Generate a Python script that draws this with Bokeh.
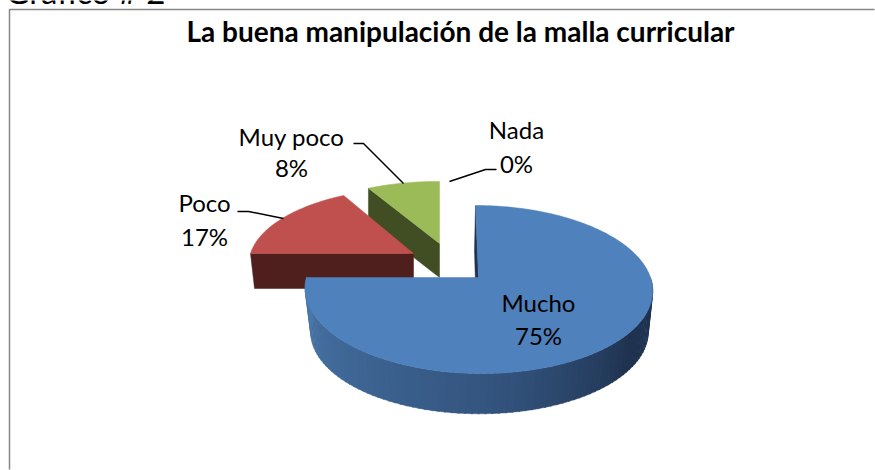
from math import sin, cos, pi
from bokeh.plotting import figure
from bokeh.embed import file_html
from bokeh.resources import INLINE
from bokeh.models import Range1d

categories = ["Mucho", "Poco", "Muy poco", "Nada"]
percents = [75, 17, 8, 0]
title_text = "La buena manipulación de la malla curricular"
caption_text = "Gráfico # 2"
top_colors = ["#4f81bd", "#c0504d", "#9bbb59"]
wall_colors = ["#1f3350", "#4f1f1e", "#414e24"]

W, H = 875, 470
p = figure(width=W, height=H, output_backend="svg", toolbar_location=None,
           x_range=Range1d(0, W), y_range=Range1d(H, 0), margin=(0, 0, 0, 0),
           min_border=0, outline_line_color=None, background_fill_color="white",
           border_fill_color="white")
p.axis.visible = False
p.grid.visible = False

K = 0.1429  # perspective strength


def rim(ang, ax, ay, rx, ry, shear=0.0):
    """Screen point of a disc rim at clockwise angle (degrees) from the back."""
    a = ang * pi / 180
    u, v = sin(a), cos(a)
    w = 1 + K * v
    return ax + rx * u / w + shear * v, ay - ry * v / w


def arc(a0, a1, ax, ay, rx, ry, shear=0.0):
    n = max(2, int(abs(a1 - a0)))
    return [rim(a0 + (a1 - a0) * i / n, ax, ay, rx, ry, shear) for i in range(n + 1)]


def poly(pts, color):
    p.patch([q[0] for q in pts], [q[1] for q in pts], fill_color=color,
            line_color=color, line_width=0.5)


# slice angles from the values
start = [0.0]
for v in percents:
    start.append(start[-1] + v * 3.6)

# green slice (8%)
a0, a1 = start[2], start[3]
ax, ay, rx, ry, depth = 439, 243, 166, 71, 34
e = rim(a0, ax, ay, rx, ry)
poly([(ax, ay), e, (e[0], e[1] + depth), (ax, ay + depth)], wall_colors[2])
poly([(ax, ay)] + arc(a0, a1, ax, ay, rx, ry), top_colors[2])

# red slice (17%)
a0, a1 = start[1], start[2]
ax, ay, rx, ry, depth = 413, 253, 163, 74.5, 35
e = rim(a0, ax, ay, rx, ry)
poly([(ax, ay), e, (e[0] + 4, e[1] + depth), (ax, ay + depth)], wall_colors[1])
poly([(ax, ay)] + arc(a0, a1, ax, ay, rx, ry), top_colors[1])

# blue slice (75%)
a0, a1 = start[0], start[1]
ax, ay, rx, ry = 478, 277, 172, 82.3
low_ax, low_ay, low_rx, low_ry = 479, 320, 167, 80
SHEAR = -3
poly([(ax, ay), rim(0, ax, ay, rx, ry, SHEAR), (474, 250), (476, 320)], wall_colors[0])


def mix(c0, c1, t):
    return "#%02x%02x%02x" % tuple(int(round(c0[i] + (c1[i] - c0[i]) * t)) for i in range(3))


LIGHT, MID, DARK = (74, 121, 172), (50, 82, 124), (31, 51, 80)
for ang in range(90, 270, 2):
    t = (270 - ang) / 180.0
    if t < 0.55:
        col = mix(LIGHT, MID, t / 0.55)
    else:
        col = mix(MID, DARK, min(1, (t - 0.55) / 0.25))
    b0, b1 = ang, ang + 2.5
    q = [rim(b0, ax, ay, rx, ry, SHEAR), rim(b1, ax, ay, rx, ry, SHEAR),
         rim(b1, low_ax, low_ay, low_rx, low_ry), rim(b0, low_ax, low_ay, low_rx, low_ry)]
    p.patch([r[0] for r in q], [r[1] for r in q], fill_color=col, line_color=col, line_width=0.4)
poly([(ax, ay)] + arc(a0, a1, ax, ay, rx, ry, SHEAR), top_colors[0])

# leader lines
for xs, ys in [([237, 248, 283], [211, 211, 218]),
               ([353, 363, 403], [143, 143, 183]),
               ([449, 485, 496], [181, 169, 169])]:
    p.line(xs, ys, line_color="black", line_width=1.5)

# frame
p.line([874, 9, 9], [9, 9, 469], line_color="#868686", line_width=1.5)

# labels
label_pos = {"Mucho": (538, 302, 335), "Poco": (204, 202, 236),
             "Muy poco": (291, 136, 167), "Nada": (516, 129, 163)}
for name, pct in zip(categories, percents):
    x, y0, y1 = label_pos[name]
    p.text([x], [y0], text=[name], text_font_size="24px", text_font={"value": "Lato"},
           text_align="center", text_baseline="middle", text_color="black")
    p.text([x], [y1], text=[f"{pct}%"], text_font_size="24px", text_font={"value": "Lato"},
           text_align="center", text_baseline="middle", text_color="black")

p.text([460], [30], text=[title_text], text_font_size="28px", text_font={"value": "Lato"},
       text_font_style="bold", text_align="center", text_baseline="middle", text_color="black")
p.text([5], [-10], text=[caption_text], text_font_size="33px", text_font={"value": "Lato"},
       text_align="left", text_baseline="alphabetic", text_color="black")

open("out.html", "w").write(file_html(p, INLINE))
